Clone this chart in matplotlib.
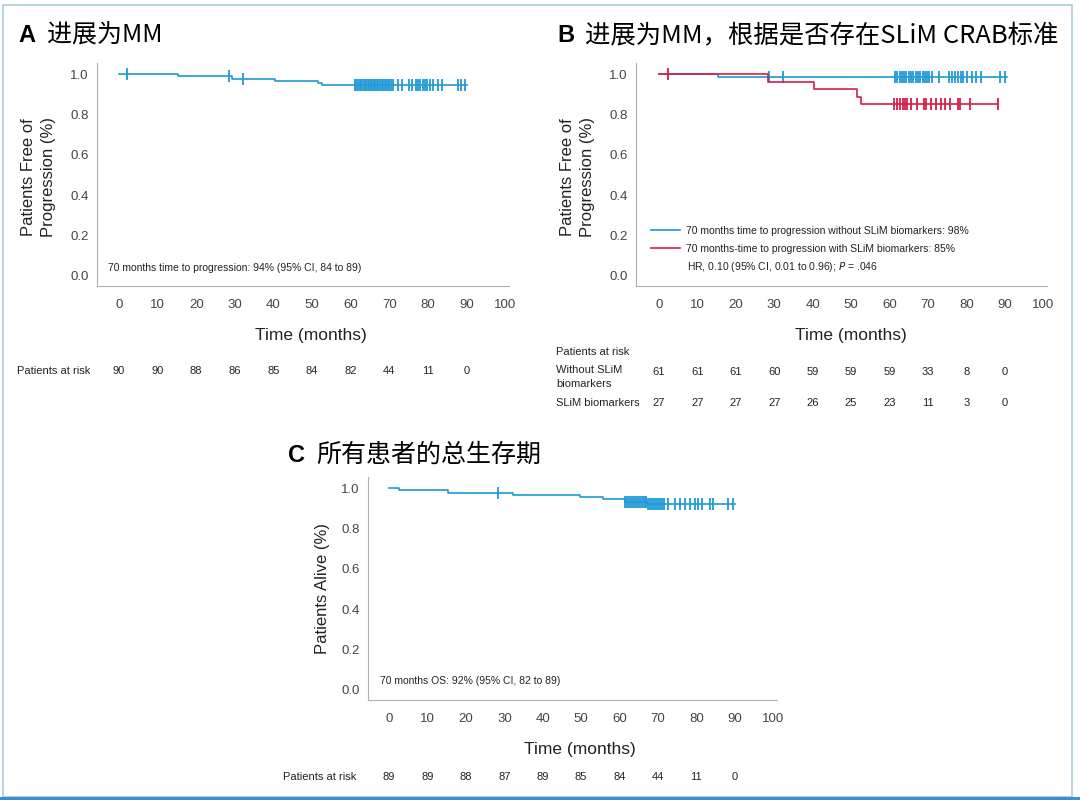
import numpy as np
import matplotlib
matplotlib.use("Agg")
import matplotlib.pyplot as plt
from matplotlib import transforms
from matplotlib.lines import Line2D
from matplotlib.patches import Rectangle

plt.rcParams['font.family'] = ['Liberation Sans', 'DejaVu Sans']

BLUE = '#1f9ad6'
RED = '#d81e48'
GRAY = '#444444'

# ---- data ----
xticks = [0, 10, 20, 30, 40, 50, 60, 70, 80, 90, 100]
risk_times = [0, 10, 20, 30, 40, 50, 60, 70, 80, 90]

# A: progression to MM, all patients
a_times = [0, 15.3, 29.3, 40.4, 51.5, 52.5, 90.0]
a_surv = [1.0, 0.989, 0.978, 0.967, 0.956, 0.944, 0.944]
a_cens = [2.0, 28.5, 32.0, 61.0, 61.5, 62.0, 62.4, 62.8, 63.2, 63.6, 64.0, 64.4,
          64.8, 65.2, 65.6, 66.0, 66.4, 66.8, 67.2, 67.6, 68.0, 68.4, 68.8, 69.2,
          69.6, 70.0, 70.5, 71.0, 72.2, 73.3, 75.0, 75.8, 76.8, 77.4, 78.0, 78.6,
          79.2, 79.8, 80.5, 81.2, 82.6, 83.6, 87.8, 88.6, 89.6]
a_risk = [90, 90, 88, 86, 85, 84, 82, 44, 11, 0]

# B: without / with SLiM biomarkers
b1_times = [0, 15.4, 90.6]
b1_surv = [1.0, 0.984, 0.984]
b1_cens = [28.5, 32.3, 61.5, 62.0, 62.6, 63.2, 63.8, 64.4, 65.0, 65.6, 66.2, 66.8,
           67.4, 68.0, 68.6, 69.2, 69.8, 70.4, 71.0, 72.8, 75.5, 76.3, 77.0, 77.8,
           78.5, 79.2, 80.3, 81.6, 82.5, 83.9, 88.7, 90.0]
b1_risk = [61, 61, 61, 60, 59, 59, 59, 33, 8, 0]
b2_times = [0, 28.4, 40.4, 51.6, 52.5, 88.3]
b2_surv = [1.0, 0.963, 0.926, 0.889, 0.852, 0.852]
b2_cens = [2.4, 61.2, 61.9, 62.8, 63.6, 64.0, 64.5, 65.5, 67.1, 69.0, 69.4, 70.9,
           72.2, 73.5, 74.4, 75.7, 77.9, 78.3, 80.9, 88.3]
b2_risk = [27, 27, 27, 27, 26, 25, 23, 11, 3, 0]

# C: overall survival
c_times = [0, 2.6, 15.4, 32.3, 49.7, 55.7, 61.5, 67.2, 90.0]
c_surv = [1.0, 0.989, 0.978, 0.966, 0.955, 0.944, 0.933, 0.921, 0.921]
c_cens = [28.4, 61.5, 62.0, 62.5, 63.0, 63.5, 64.0, 64.5, 65.0, 65.5, 66.0, 66.5,
          67.0, 67.5, 68.0, 68.5, 69.0, 69.5, 70.0, 70.5, 71.0, 71.5, 72.6, 74.4,
          75.8, 77.1, 78.4, 79.7, 80.5, 81.5, 83.6, 84.4, 88.3, 89.6]
c_risk = [89, 89, 88, 87, 89, 85, 84, 44, 11, 0]


def surv_at(times, surv, t):
    idx = np.searchsorted(times, t, side='right') - 1
    return np.asarray(surv)[idx]


def km(ax, times, surv, cens, color, z=2):
    ax.step(times, surv, where='post', color=color, lw=1.2, zorder=z)
    ax.plot(cens, surv_at(times, surv, cens), ls='none', marker='|',
            ms=8.5, mew=1.3, color=color, zorder=z)


def style(ax, xlim):
    ax.set_xlim(*xlim)
    ax.set_ylim(-0.05, 1.055)
    ax.set_xticks(xticks)
    ax.set_yticks([0.0, 0.2, 0.4, 0.6, 0.8, 1.0])
    ax.set_yticklabels(['0.0', '0.2', '0.4', '0.6', '0.8', '1.0'])
    for s in ['top', 'right']:
        ax.spines[s].set_visible(False)
    for s in ['left', 'bottom']:
        ax.spines[s].set_color('#b0b0b0')
        ax.spines[s].set_linewidth(0.8)
    ax.tick_params(length=0, labelsize=9.5, colors=GRAY)
    ax.tick_params(axis='x', pad=9)
    ax.tick_params(axis='y', pad=6)
    ax.set_xlabel('Time (months)', fontsize=12.5, color='#222222')


fig = plt.figure(figsize=(10.8, 8), dpi=100)
W, H = 1080, 800

def px_axes(l, t, r, b):
    return fig.add_axes([l / W, 1 - b / H, (r - l) / W, (b - t) / H])

# border
fig.patches.append(Rectangle((3 / W, 3 / H), 1069 / W, 792 / H, transform=fig.transFigure,
                             fill=False, ec='#a9cbe0', lw=1.2))
fig.patches.append(Rectangle((0, 0), 1, 3 / H, transform=fig.transFigure,
                             fc='#3f8fc6', ec='none'))

# ---- panel A ----
axA = px_axes(97, 63, 509, 286)
km(axA, a_times, a_surv, a_cens, BLUE)
style(axA, (-5.7, 101))
axA.set_ylabel('Patients Free of\nProgression (%)', fontsize=12, color='#222222', linespacing=1.4)
axA.yaxis.set_label_coords(-0.10, 0.49)
axA.xaxis.set_label_coords(0.519, -0.19)
axA.text(0.027, 0.081, '70 months time to progression: 94% (95% CI, 84 to 89)',
         transform=axA.transAxes, fontsize=7.5, color='#222222', va='center')

# ---- panel B ----
axB = px_axes(636, 63, 1047, 286)
km(axB, b1_times, b1_surv, b1_cens, BLUE, z=2)
km(axB, b2_times, b2_surv, b2_cens, RED, z=3)
style(axB, (-6.0, 101))
axB.set_ylabel('Patients Free of\nProgression (%)', fontsize=12, color='#222222', linespacing=1.4)
axB.yaxis.set_label_coords(-0.10, 0.49)
axB.xaxis.set_label_coords(0.523, -0.19)
handles = [Line2D([], [], color=BLUE, lw=1.2), Line2D([], [], color=RED, lw=1.2)]
axB.legend(handles,
           ['70 months time to progression without SLiM biomarkers: 98%',
            '70 months-time to progression with SLiM biomarkers: 85%'],
           loc='lower left', bbox_to_anchor=(0.037, 0.143), frameon=False,
           fontsize=7.5, handlelength=2.75, handletextpad=0.6, borderpad=0,
           borderaxespad=0, labelspacing=0.8, labelcolor='#222222')
axB.text(0.124, 0.085, 'HR, 0.10 (95% CI, 0.01 to 0.96); $\\it{P}$ = .046',
         transform=axB.transAxes, fontsize=7.5, color='#222222', va='center')

# ---- panel C ----
axC = px_axes(368, 477, 777, 700)
km(axC, c_times, c_surv, c_cens, BLUE)
style(axC, (-5.5, 101))
axC.set_ylabel('Patients Alive (%)', fontsize=12, color='#222222')
axC.yaxis.set_label_coords(-0.093, 0.5)
axC.xaxis.set_label_coords(0.518, -0.19)
axC.text(0.029, 0.085, '70 months OS: 92% (95% CI, 82 to 89)',
         transform=axC.transAxes, fontsize=7.5, color='#222222', va='center')

# ---- titles ----
cjk = ['Noto Sans CJK SC', 'DejaVu Sans']
fig.text(18 / W, 1 - 36 / H, 'A', fontsize=17, fontweight='bold', va='center')
fig.text(47 / W, 1 - 36 / H, '进展为MM', fontsize=18, family=cjk, va='center')
fig.text(557 / W, 1 - 36 / H, 'B', fontsize=17, fontweight='bold', va='center')
fig.text(585 / W, 1 - 36 / H, '进展为MM，根据是否存在SLiM CRAB标准', fontsize=18.3,
         family=cjk, va='center')
fig.text(288 / W, 1 - 455 / H, 'C', fontsize=17, fontweight='bold', va='center')
fig.text(316 / W, 1 - 455 / H, '所有患者的总生存期', fontsize=18, family=cjk, va='center')

# ---- risk tables ----
def risk_row(ax, ypx, counts):
    tr = transforms.blended_transform_factory(ax.transData, fig.transFigure)
    for t, n in zip(risk_times, counts):
        ax.text(t, 1 - ypx / H, str(n), transform=tr, ha='center', va='center',
                fontsize=8, color='#222222', clip_on=False)

fig.text(17 / W, 1 - 371 / H, 'Patients at risk', fontsize=8, va='center', color='#222222')
risk_row(axA, 371, a_risk)

fig.text(556 / W, 1 - 352 / H, 'Patients at risk', fontsize=8, va='center', color='#222222')
fig.text(556 / W, 1 - 377 / H, 'Without SLiM\nbiomarkers', fontsize=8, va='center',
         color='#222222', linespacing=1.4)
risk_row(axB, 372, b1_risk)
fig.text(556 / W, 1 - 403 / H, 'SLiM biomarkers', fontsize=8, va='center', color='#222222')
risk_row(axB, 403, b2_risk)

fig.text(283 / W, 1 - 777 / H, 'Patients at risk', fontsize=8, va='center', color='#222222')
risk_row(axC, 777, c_risk)

fig.savefig('out.png', dpi=100)
